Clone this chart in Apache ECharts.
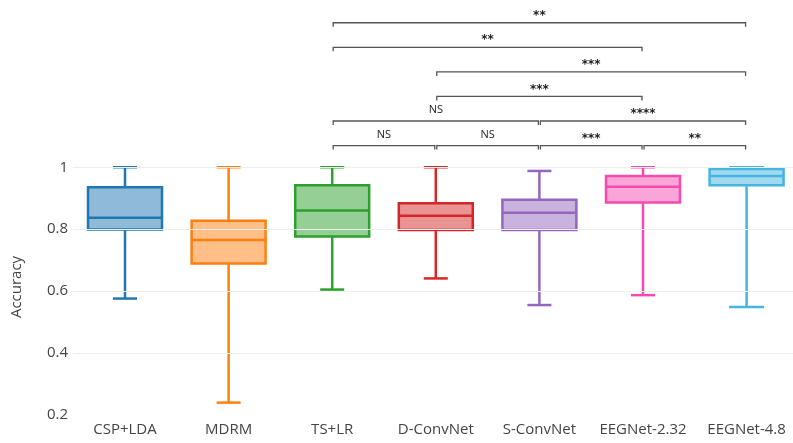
<!DOCTYPE html>
<html>
<head>
<meta charset="utf-8">
<script src="https://cdn.jsdelivr.net/npm/echarts@6/dist/echarts.min.js"></script>
<style>
  html, body { margin: 0; padding: 0; background: #fff; }
  #chart { width: 793px; height: 443px; }
</style>
</head>
<body>
<div id="chart"></div>
<script>
// categories + box stats
var categories = ['CSP+LDA', 'MDRM', 'TS+LR', 'D-ConvNet', 'S-ConvNet', 'EEGNet-2.32', 'EEGNet-4.8'];
var whiskerLow  = [0.576, 0.240, 0.605, 0.641, 0.555, 0.587, 0.549];
var q1          = [0.799, 0.689, 0.776, 0.797, 0.797, 0.886, 0.942];
var median      = [0.837, 0.765, 0.860, 0.843, 0.853, 0.937, 0.972];
var q3          = [0.935, 0.827, 0.942, 0.884, 0.895, 0.972, 0.994];
var whiskerHigh = [1.000, 1.000, 1.000, 1.000, 0.988, 1.000, 1.000];
var yTicks = [0.2, 0.4, 0.6, 0.8, 1];

// significance brackets: from / to category index, stacking level, label
var cmpFrom  = [2, 2, 3, 3, 2, 4, 2, 3, 4, 5];
var cmpTo    = [6, 5, 6, 5, 4, 6, 3, 4, 5, 6];
var cmpLevel = [5, 4, 3, 2, 1, 1, 0, 0, 0, 0];
var cmpLabel = ['**', '**', '***', '***', 'NS', '****', 'NS', 'NS', '***', '**'];

var colors = ['#1f77b4', '#ff7f0e', '#2ca02c', '#d62728', '#9467bd', '#f54bb0', '#45b4e0'];
var capPx = [24, 24, 24, 24, 24, 24, 35];

var boxData = categories.map(function (c, i) {
    return [i, whiskerLow[i], q1[i], median[i], q3[i], whiskerHigh[i]];
});
var cmpData = cmpFrom.map(function (a, i) {
    return [a, cmpTo[i], cmpLevel[i]];
});

var chart = echarts.init(document.getElementById('chart'));

// original plot runs a bit past the right edge, so the x range is cut at 6.45
var option = {
    animation: false,
    textStyle: { fontFamily: 'Open Sans' },
    grid: { left: 73, right: 0, top: 0, bottom: 28 },
    xAxis: {
        type: 'value',
        min: -0.502,
        max: 6.448,
        axisLine: { show: false },
        axisTick: { show: false },
        splitLine: { show: false },
        axisLabel: {
            customValues: categories.map(function (c, i) { return i; }),
            formatter: function (v) { return categories[Math.round(v)] || ''; },
            fontSize: 15, color: '#444', margin: 7, fontFamily: 'Open Sans',
            showMinLabel: true, showMaxLabel: true, hideOverlap: false
        }
    },
    yAxis: {
        type: 'value',
        min: 0.2,
        max: 1.54,
        interval: 0.2,
        axisLine: { show: false },
        axisTick: { show: false },
        splitLine: { show: false },
        axisLabel: {
            fontSize: 15, color: '#444', margin: 5, fontFamily: 'Open Sans',
            formatter: function (v) { return v > 1.001 ? '' : String(+v.toFixed(1)); }
        }
    },
    graphic: [{
        type: 'text',
        x: 17, y: 287,
        rotation: Math.PI / 2,
        style: {
            text: 'Accuracy', fontSize: 15, fill: '#444', fontFamily: 'Open Sans',
            textAlign: 'center', textVerticalAlign: 'middle'
        }
    }],
    series: [
        {
            // gridlines only where ticks are labelled
            type: 'line',
            data: [],
            silent: true,
            markLine: {
                silent: true,
                symbol: 'none',
                label: { show: false },
                lineStyle: { color: '#eeeeee', type: 'solid', width: 1 },
                data: yTicks.slice(1).map(function (v) { return { yAxis: v }; })
            }
        },
        {
            type: 'custom',
            data: boxData,
            clip: false,
            encode: { x: 0, y: [1, 2, 3, 4, 5] },
            renderItem: function (params, api) {
                var i = api.value(0);
                var c = colors[i];
                var band = api.size([1, 0])[0];
                var hw = band * 0.357;
                var pLow = api.coord([i, api.value(1)]);
                var pQ1 = api.coord([i, api.value(2)]);
                var pMed = api.coord([i, api.value(3)]);
                var pQ3 = api.coord([i, api.value(4)]);
                var pHigh = api.coord([i, api.value(5)]);
                var x = pQ1[0];
                var cw = capPx[i] / 2;
                var ls = { stroke: c, lineWidth: 2.5, fill: null };
                return {
                    type: 'group',
                    children: [
                        { type: 'line', shape: { x1: x, y1: pLow[1], x2: x, y2: pQ1[1] }, style: ls },
                        { type: 'line', shape: { x1: x, y1: pQ3[1], x2: x, y2: pHigh[1] }, style: ls },
                        { type: 'line', shape: { x1: x - cw, y1: pLow[1], x2: x + cw, y2: pLow[1] }, style: ls },
                        { type: 'line', shape: { x1: x - cw, y1: pHigh[1], x2: x + cw, y2: pHigh[1] }, style: ls },
                        {
                            type: 'rect',
                            shape: { x: x - hw, y: pQ3[1], width: hw * 2, height: pQ1[1] - pQ3[1] },
                            style: { fill: echarts.color.modifyAlpha(c, 0.5), stroke: c, lineWidth: 2.5 }
                        },
                        { type: 'line', shape: { x1: x - hw, y1: pMed[1], x2: x + hw, y2: pMed[1] }, style: ls }
                    ]
                };
            }
        },
        {
            type: 'custom',
            data: cmpData,
            clip: false,
            silent: true,
            encode: { x: [0, 1] },
            renderItem: function (params, api) {
                var a = api.value(0), b = api.value(1), lvl = api.value(2);
                var yv = 1.07 + lvl * 0.0793;
                var p1 = api.coord([a, yv]);
                var p2 = api.coord([b, yv]);
                var x1 = p1[0] + 1, x2 = p2[0] - 1, y = p1[1];
                var txt = cmpLabel[params.dataIndex];
                var isStar = txt.charAt(0) === '*';
                return {
                    type: 'group',
                    children: [
                        {
                            type: 'polyline',
                            shape: { points: [[x1, y + 4], [x1, y], [x2, y], [x2, y + 4]] },
                            style: { stroke: '#555', lineWidth: 1.3, fill: null }
                        },
                        {
                            type: 'text',
                            x: (x1 + x2) / 2,
                            y: isStar ? y - 7 : y - 11,
                            style: {
                                text: txt,
                                fontSize: isStar ? 12 : 11,
                                fontWeight: isStar ? 'bold' : 'normal',
                                fill: '#222',
                                fontFamily: isStar ? 'DejaVu Sans' : 'Open Sans',
                                textAlign: 'center',
                                textVerticalAlign: 'middle'
                            }
                        }
                    ]
                };
            }
        }
    ]
};

chart.setOption(option);
</script>
</body>
</html>
